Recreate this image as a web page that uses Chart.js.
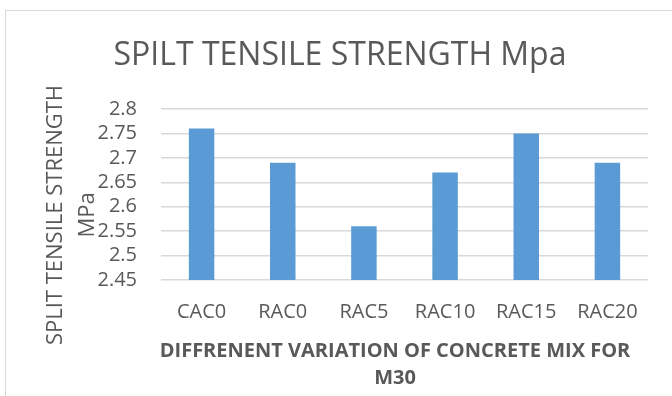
<!DOCTYPE html>
<html>
<head>
<meta charset="utf-8">
<script src="https://cdn.jsdelivr.net/npm/chart.js@4"></script>
<style>
  html, body { margin: 0; padding: 0; background: #ffffff; }
  #wrap { width: 672px; height: 396px; }
</style>
</head>
<body>
<div id="wrap"><canvas id="chart" width="672" height="396"></canvas></div>
<script>
// Mix designations along the x axis
const categories = ['CAC0', 'RAC0', 'RAC5', 'RAC10', 'RAC15', 'RAC20'];
// Split tensile strength (MPa) for each mix
const strengthValues = [2.76, 2.69, 2.56, 2.67, 2.75, 2.69];
// Value axis tick marks
const yTickValues = [2.45, 2.5, 2.55, 2.6, 2.65, 2.7, 2.75, 2.8];

// Texts
const chartTitle = 'SPILT TENSILE STRENGTH Mpa';
const yTitleLines = ['SPLIT TENSILE STRENGTH', 'MPa'];
const xTitleLines = ['DIFFRENENT VARIATION OF CONCRETE MIX FOR', 'M30'];

const TEXT_COLOR = '#595959';
const FONT = '"Open Sans", "Liberation Sans", sans-serif';

// Draws the outer frame and the three titles as canvas text
const decorations = {
  id: 'decorations',
  beforeDraw(chart) {
    const ctx = chart.ctx;
    ctx.save();
    ctx.strokeStyle = '#d9d9d9';
    ctx.lineWidth = 1;
    ctx.strokeRect(5.5, 10.5, 900, 900);
    ctx.restore();
  },
  afterDraw(chart) {
    const ctx = chart.ctx;
    ctx.save();
    ctx.fillStyle = TEXT_COLOR;

    // chart title
    ctx.font = '32px ' + FONT;
    ctx.textAlign = 'center';
    ctx.textBaseline = 'alphabetic';
    ctx.fillText(chartTitle, 340, 65);

    // x axis title (bold, two lines)
    ctx.font = 'bold 20px ' + FONT;
    ctx.fillText(xTitleLines[0], 395, 357);
    ctx.fillText(xTitleLines[1], 395, 384);

    // y axis title (rotated, two lines)
    ctx.font = '22px ' + FONT;
    ctx.translate(0, 215);
    ctx.rotate(-Math.PI / 2);
    ctx.fillText(yTitleLines[0], 0, 62);
    ctx.fillText(yTitleLines[1], 0, 94);
    ctx.restore();
  }
};

new Chart(document.getElementById('chart'), {
  type: 'bar',
  data: {
    labels: categories,
    datasets: [{
      label: 'Split tensile strength',
      data: strengthValues,
      backgroundColor: '#5b9bd5',
      borderWidth: 0,
      barPercentage: 0.314,
      categoryPercentage: 1.0
    }]
  },
  options: {
    responsive: false,
    animation: false,
    devicePixelRatio: 1,
    layout: { padding: { left: 0, right: 24, top: 109, bottom: 0 } },
    plugins: {
      legend: { display: false },
      title: { display: false },
      tooltip: { enabled: false }
    },
    scales: {
      x: {
        grid: { display: false, drawTicks: false },
        border: { display: false },
        ticks: {
          color: TEXT_COLOR,
          font: { family: FONT, size: 20 },
          padding: 20,
          maxRotation: 0,
          autoSkip: false
        },
        afterFit(scale) { scale.height = 116; }
      },
      y: {
        min: 2.45,
        max: 2.8,
        grid: { color: '#d9d9d9', lineWidth: 1.5, drawTicks: false },
        border: { display: false },
        ticks: {
          color: TEXT_COLOR,
          font: { family: FONT, size: 20 },
          padding: 24,
          autoSkip: false,
          callback: (v) => String(Math.round(v * 100) / 100)
        },
        afterBuildTicks(scale) {
          scale.ticks = yTickValues.map(v => ({ value: v }));
        },
        afterFit(scale) { scale.width = 161; }
      }
    }
  },
  plugins: [decorations]
});
</script>
</body>
</html>
